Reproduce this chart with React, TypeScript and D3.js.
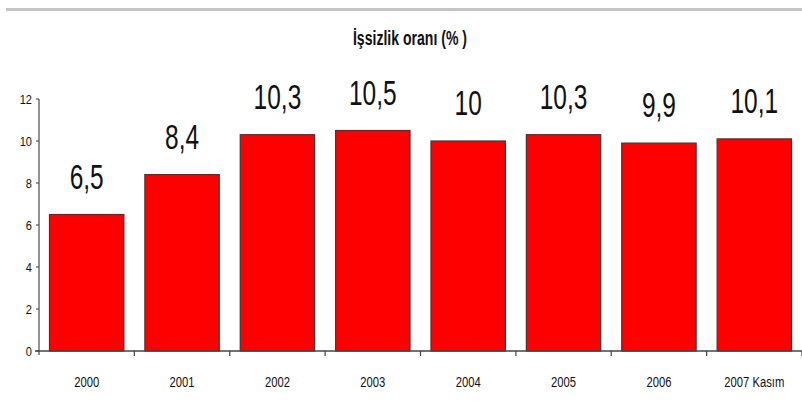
import React from "react";
import * as d3 from "d3";

const categories = ["2000", "2001", "2002", "2003", "2004", "2005", "2006", "2007 Kasım"];
const values = [6.5, 8.4, 10.3, 10.5, 10, 10.3, 9.9, 10.1];
const valueLabels = ["6,5", "8,4", "10,3", "10,5", "10", "10,3", "9,9", "10,1"];
const yTicks = [0, 2, 4, 6, 8, 10, 12];
const title = "İşsizlik oranı (% )";

const W = 802;
const H = 406;
const FONT = "'Liberation Sans', Arial, sans-serif";

function SText({ x, y, sx, size, weight, anchor, children }: any) {
  return (
    <text
      transform={`translate(${x},${y}) scale(${sx},1)`}
      textAnchor={anchor || "middle"}
      fontFamily={FONT}
      fontSize={size}
      fontWeight={weight || "normal"}
      fill="#111"
    >
      {children}
    </text>
  );
}

export default function App() {
  const x = d3
    .scaleBand<string>()
    .domain(categories)
    .range([39, 802])
    .paddingInner(0.22)
    .paddingOuter(0.11);
  const y = d3.scaleLinear().domain([0, 12]).range([351, 99]);
  const step = x.step();
  const x0 = 39;

  return (
    <svg
      width={W}
      height={H}
      style={{ position: "absolute", left: 0, top: 0, background: "#fff" }}
    >
      <rect x={6} y={8} width={W - 6} height={3} fill="#c4c4c4" />
      <SText x={410} y={45} sx={0.67} size={21} weight="bold">
        {title}
      </SText>

      {categories.map((c, i) => (
        <g key={c}>
          <rect
            x={x(c)}
            y={y(values[i])}
            width={x.bandwidth()}
            height={y(0) - y(values[i])}
            fill="#ff0000"
            stroke="#3a3a3a"
            strokeWidth={1.2}
          />
          <SText x={(x(c) as number) + x.bandwidth() / 2} y={y(values[i]) - 26} sx={0.7} size={35}>
            {valueLabels[i]}
          </SText>
          <SText x={(x(c) as number) + x.bandwidth() / 2} y={387} sx={0.75} size={15}>
            {c}
          </SText>
        </g>
      ))}

      {/* y axis */}
      <line x1={x0} x2={x0} y1={y(12)} y2={y(0) + 4} stroke="#777" strokeWidth={1.6} />
      {yTicks.map((t) => (
        <g key={t}>
          <line x1={x0 - 3} x2={x0} y1={y(t)} y2={y(t)} stroke="#555" strokeWidth={1.2} />
          <SText x={32} y={y(t) + 5} sx={0.85} size={13} anchor="end">
            {String(t)}
          </SText>
        </g>
      ))}

      {/* x axis */}
      <line x1={x0 - 4} x2={802} y1={y(0)} y2={y(0)} stroke="#444" strokeWidth={1.4} />
      {categories.map((c, i) => {
        const bx = x0 + step * (i + 1);
        return <line key={"t" + c} x1={bx} x2={bx} y1={y(0)} y2={y(0) + 5} stroke="#444" strokeWidth={1.2} />;
      })}
    </svg>
  );
}
